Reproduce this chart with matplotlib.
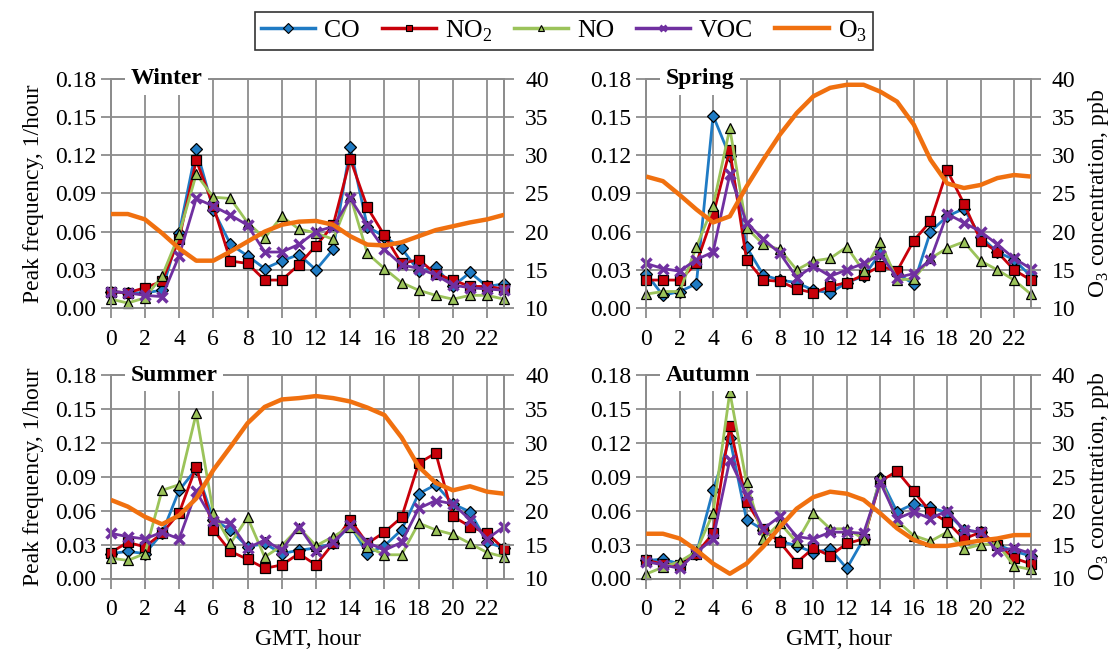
import matplotlib
matplotlib.use("Agg")
import matplotlib.pyplot as plt
from matplotlib.lines import Line2D

hours = list(range(24))

# winter
winter_co = [0.013, 0.012, 0.012, 0.014, 0.059, 0.125, 0.077, 0.050, 0.041, 0.031, 0.037, 0.042,
             0.030, 0.046, 0.126, 0.064, 0.056, 0.047, 0.029, 0.032, 0.017, 0.028, 0.017, 0.019]
winter_no2 = [0.013, 0.012, 0.016, 0.021, 0.054, 0.116, 0.080, 0.037, 0.035, 0.022, 0.022, 0.034,
              0.049, 0.065, 0.117, 0.079, 0.057, 0.035, 0.038, 0.027, 0.022, 0.017, 0.017, 0.015]
winter_no = [0.007, 0.004, 0.008, 0.025, 0.058, 0.105, 0.087, 0.086, 0.067, 0.055, 0.072, 0.062,
             0.059, 0.054, 0.088, 0.043, 0.031, 0.020, 0.014, 0.010, 0.007, 0.010, 0.010, 0.007]
winter_voc = [0.013, 0.012, 0.010, 0.009, 0.041, 0.086, 0.080, 0.073, 0.065, 0.044, 0.044, 0.050,
              0.060, 0.064, 0.086, 0.065, 0.046, 0.034, 0.031, 0.026, 0.018, 0.016, 0.015, 0.014]
winter_o3 = [22.3, 22.3, 21.6, 19.8, 17.8, 16.2, 16.2, 17.4, 18.7, 20.0, 20.9, 21.3,
             21.4, 20.9, 19.4, 18.3, 18.2, 18.6, 19.4, 20.2, 20.7, 21.2, 21.6, 22.2]

# spring
spring_co = [0.027, 0.010, 0.013, 0.019, 0.151, 0.119, 0.048, 0.026, 0.022, 0.020, 0.014, 0.012,
             0.020, 0.025, 0.043, 0.027, 0.019, 0.060, 0.072, 0.078, 0.056, 0.044, 0.038, 0.025]
spring_no2 = [0.022, 0.022, 0.022, 0.035, 0.073, 0.124, 0.038, 0.022, 0.021, 0.015, 0.012, 0.017,
              0.020, 0.026, 0.033, 0.029, 0.053, 0.068, 0.108, 0.082, 0.053, 0.044, 0.030, 0.022]
spring_no = [0.011, 0.013, 0.013, 0.048, 0.080, 0.141, 0.063, 0.050, 0.046, 0.030, 0.037, 0.039,
             0.048, 0.029, 0.052, 0.022, 0.023, 0.039, 0.047, 0.052, 0.037, 0.030, 0.022, 0.011]
spring_voc = [0.035, 0.031, 0.029, 0.038, 0.044, 0.105, 0.067, 0.054, 0.043, 0.024, 0.033, 0.025,
              0.030, 0.035, 0.042, 0.024, 0.027, 0.038, 0.074, 0.067, 0.060, 0.050, 0.039, 0.031]
spring_o3 = [27.2, 26.6, 24.8, 22.9, 21.2, 22.0, 25.9, 29.4, 32.7, 35.5, 37.7, 38.8,
             39.2, 39.2, 38.3, 37.0, 34.0, 29.4, 26.3, 25.7, 26.1, 27.0, 27.4, 27.2]

# summer
summer_co = [0.022, 0.024, 0.022, 0.040, 0.078, 0.097, 0.052, 0.043, 0.028, 0.031, 0.022, 0.025,
             0.027, 0.031, 0.047, 0.022, 0.029, 0.043, 0.075, 0.083, 0.066, 0.059, 0.032, 0.027]
summer_no2 = [0.023, 0.032, 0.028, 0.040, 0.058, 0.099, 0.043, 0.024, 0.017, 0.009, 0.012, 0.022,
              0.012, 0.031, 0.052, 0.031, 0.041, 0.054, 0.102, 0.111, 0.055, 0.046, 0.040, 0.026]
summer_no = [0.018, 0.016, 0.022, 0.078, 0.083, 0.146, 0.058, 0.031, 0.054, 0.019, 0.029, 0.045,
             0.029, 0.037, 0.046, 0.028, 0.021, 0.021, 0.049, 0.043, 0.039, 0.031, 0.023, 0.019]
summer_voc = [0.040, 0.037, 0.035, 0.041, 0.035, 0.077, 0.051, 0.049, 0.027, 0.034, 0.025, 0.046,
              0.024, 0.032, 0.047, 0.032, 0.025, 0.032, 0.062, 0.069, 0.066, 0.052, 0.035, 0.046]
summer_o3 = [21.6, 20.6, 19.1, 18.0, 19.3, 21.8, 26.0, 29.4, 32.9, 35.3, 36.4, 36.6,
             36.9, 36.6, 36.1, 35.2, 34.1, 30.8, 26.5, 24.1, 23.0, 23.6, 22.8, 22.5]

# autumn
autumn_co = [0.016, 0.017, 0.013, 0.022, 0.078, 0.124, 0.052, 0.043, 0.033, 0.029, 0.023, 0.026,
             0.009, 0.035, 0.089, 0.059, 0.066, 0.063, 0.058, 0.043, 0.041, 0.030, 0.024, 0.020]
autumn_no2 = [0.016, 0.013, 0.012, 0.022, 0.040, 0.135, 0.068, 0.044, 0.032, 0.014, 0.027, 0.020,
              0.031, 0.035, 0.086, 0.095, 0.077, 0.059, 0.050, 0.035, 0.041, 0.030, 0.018, 0.013]
autumn_no = [0.004, 0.010, 0.015, 0.024, 0.058, 0.165, 0.085, 0.035, 0.049, 0.032, 0.058, 0.044,
             0.044, 0.035, 0.089, 0.051, 0.038, 0.033, 0.041, 0.026, 0.030, 0.031, 0.011, 0.008]
autumn_voc = [0.015, 0.012, 0.009, 0.023, 0.035, 0.105, 0.074, 0.044, 0.055, 0.037, 0.035, 0.041,
              0.041, 0.040, 0.085, 0.053, 0.059, 0.053, 0.060, 0.043, 0.041, 0.024, 0.027, 0.022]
autumn_o3 = [16.6, 16.6, 15.9, 14.2, 12.2, 10.7, 12.2, 14.7, 17.6, 20.3, 22.0, 22.8,
             22.5, 21.6, 19.6, 17.4, 15.7, 14.8, 14.8, 15.2, 15.6, 15.9, 16.4, 16.4]

seasons = ["Winter", "Spring", "Summer", "Autumn"]
season_data = {
    "Winter": (winter_co, winter_no2, winter_no, winter_voc, winter_o3),
    "Spring": (spring_co, spring_no2, spring_no, spring_voc, spring_o3),
    "Summer": (summer_co, summer_no2, summer_no, summer_voc, summer_o3),
    "Autumn": (autumn_co, autumn_no2, autumn_no, autumn_voc, autumn_o3),
}

names = ["CO", r"NO$_\mathregular{2}$", "NO", "VOC", r"O$_\mathregular{3}$"]
colors = ["#1f7bc4", "#c8000a", "#9bc35a", "#7030a0", "#f0700f"]
markers = ["D", "s", "^", "x"]
msizes = [6.5, 6.5, 7.5, 7.5]

GRID = "#8c8c8c"
FS = 17

# [left, bottom, width, height] in figure fraction
positions = {
    "Winter": [0.099, 0.526, 0.352, 0.353],
    "Spring": [0.578, 0.526, 0.344, 0.353],
    "Summer": [0.099, 0.110, 0.352, 0.313],
    "Autumn": [0.578, 0.110, 0.344, 0.313],
}

plt.rcParams["font.family"] = ["Liberation Serif", "DejaVu Serif"]
plt.rcParams["mathtext.fontset"] = "custom"
plt.rcParams["mathtext.rm"] = "Liberation Serif"
plt.rcParams["font.size"] = FS


def draw_panel(fig, season, idx):
    co, no2, no, voc, o3 = season_data[season]
    ax = fig.add_axes(positions[season])
    ax2 = ax.twinx()

    for i, vals in enumerate([co, no2, no, voc]):
        if markers[i] == "x":
            ax.plot(hours, vals, color=colors[i], lw=2, marker="x", ms=msizes[i],
                    mew=2.5, mec=colors[i], clip_on=False, zorder=3)
        else:
            ax.plot(hours, vals, color=colors[i], lw=2, marker=markers[i], ms=msizes[i],
                    mfc=colors[i], mec="black", mew=0.9, clip_on=False, zorder=3)
    ax2.plot(hours, o3, color=colors[4], lw=3.2, solid_capstyle="butt", zorder=3)

    ax.set_xlim(0, 23)
    ax.set_ylim(0, 0.18)
    ax2.set_ylim(10, 40)
    ax.set_xticks(range(0, 23, 2))
    ax.set_yticks([0, 0.03, 0.06, 0.09, 0.12, 0.15, 0.18])
    ax.set_yticklabels(["%.2f" % v for v in ax.get_yticks()])
    ax2.set_yticks(range(10, 41, 5))

    ax.grid(True, color=GRID, lw=1.3)
    ax.set_axisbelow(True)
    for a in (ax, ax2):
        for s in a.spines.values():
            s.set_color(GRID)
            s.set_linewidth(1.3)
    ax.tick_params(axis="both", colors=GRID, labelcolor="black", length=7, width=1.3,
                   labelsize=FS)
    ax.tick_params(axis="x", pad=8)
    ax2.tick_params(axis="y", colors=GRID, labelcolor="black", length=7, width=1.3,
                    labelsize=FS, pad=8)

    if idx % 2 == 0:
        ax.set_ylabel("Peak frequency, 1/hour", fontsize=FS, labelpad=8)
    else:
        ax2.set_ylabel(r"O$_\mathregular{3}$ concentration, ppb", fontsize=FS, labelpad=8)
    if idx >= 2:
        ax.set_xlabel("GMT, hour", fontsize=FS, labelpad=6)

    ax2.text(0.05, 1.0, season, transform=ax2.transAxes, ha="left", va="center",
             fontsize=FS, fontweight="bold", zorder=10, clip_on=False,
             bbox=dict(facecolor="white", edgecolor="none", pad=4))


def main():
    fig = plt.figure(figsize=(11.18, 6.5), dpi=100)
    for idx, season in enumerate(seasons):
        draw_panel(fig, season, idx)

    handles = []
    for i in range(4):
        if markers[i] == "x":
            handles.append(Line2D([], [], color=colors[i], lw=2.5, marker="x", ms=5,
                                  mew=2, mec=colors[i]))
        else:
            handles.append(Line2D([], [], color=colors[i], lw=2.5, marker=markers[i], ms=5,
                                  mfc=colors[i], mec="black", mew=0.8))
    handles.append(Line2D([], [], color=colors[4], lw=3.2))

    leg = fig.legend(handles, names, loc="center", bbox_to_anchor=(0.5045, 0.952), ncol=5,
                     frameon=True, fancybox=False, edgecolor="black", fontsize=18.5,
                     handlelength=2.1, handletextpad=0.35, columnspacing=0.85,
                     borderpad=0.25, borderaxespad=0)
    leg.get_frame().set_linewidth(1.2)

    fig.savefig("out.png", dpi=100)


if __name__ == "__main__":
    main()
